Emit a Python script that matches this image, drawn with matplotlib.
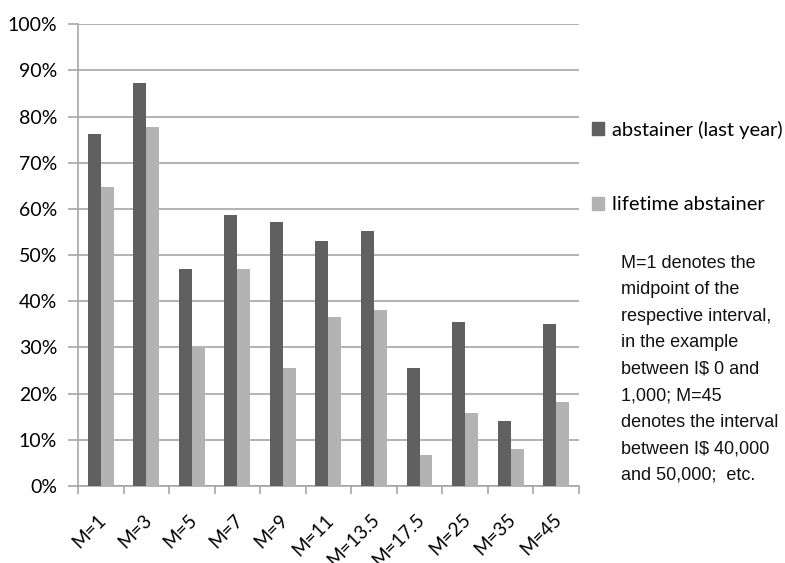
import numpy as np
import matplotlib.pyplot as plt
from matplotlib.patches import Patch

# income midpoint categories (I$ thousand)
categories = ["M=1", "M=3", "M=5", "M=7", "M=9", "M=11", "M=13.5",
              "M=17.5", "M=25", "M=35", "M=45"]
abstainer_last_year = [76.2, 87.3, 47.1, 58.7, 57.2, 53.1, 55.3, 25.5, 35.6, 14.0, 35.0]
lifetime_abstainer = [64.7, 77.7, 30.2, 46.9, 25.6, 36.7, 38.2, 6.8, 15.8, 8.0, 18.2]
y_ticks = np.arange(0, 101, 10)

note = ("M=1 denotes the\nmidpoint of the\nrespective interval,\nin the example\n"
        "between I$ 0 and\n1,000; M=45\ndenotes the interval\nbetween I$ 40,000\n"
        "and 50,000;  etc.")

DARK = "#606060"
LIGHT = "#b3b3b3"
GRID = "#a6a6a6"
TICK_FONT = ["Lato", "DejaVu Sans"]

fig = plt.figure(figsize=(7.85, 5.63), dpi=100)
ax = fig.add_axes([0.0994, 0.1368, 0.638, 0.82])

x = np.arange(len(categories))
w = 0.285
ax.bar(x - w / 2, abstainer_last_year, w, color=DARK, zorder=3)
ax.bar(x + w / 2, lifetime_abstainer, w, color=LIGHT, zorder=3)

ax.set_xlim(-0.5, len(categories) - 0.5)
ax.set_ylim(0, 100)
ax.set_yticks(y_ticks)
ax.set_yticklabels([f"{v}%" for v in y_ticks], fontfamily=TICK_FONT, fontsize=14)
ax.yaxis.grid(True, color=GRID, linewidth=1.2, zorder=0)

# category labels centred, tick marks on the boundaries
ax.set_xticks(x - 0.08)
ax.set_xticklabels(categories, rotation=45, ha="right", rotation_mode="anchor",
                   fontfamily=TICK_FONT, fontsize=13.5)
ax.tick_params(axis="x", length=0, pad=18)
ax.set_xticks(np.arange(-0.5, len(categories)), minor=True)
ax.tick_params(axis="x", which="minor", length=6, color=GRID, width=1.2)
ax.tick_params(axis="y", length=7, color=GRID, width=1.2, pad=8)

for s in ["top", "right"]:
    ax.spines[s].set_visible(False)
for s in ["left", "bottom"]:
    ax.spines[s].set_color(GRID)
    ax.spines[s].set_linewidth(1.2)

handles = [Patch(color=DARK), Patch(color=LIGHT)]
fig.legend(handles, ["abstainer (last year)", "lifetime abstainer"],
           loc="upper left", bbox_to_anchor=(592 / 785, 1 - 121 / 563),
           frameon=False, borderpad=0, borderaxespad=0,
           handlelength=0.62, handleheight=0.62, handletextpad=0.35,
           labelspacing=2.85, prop={"family": TICK_FONT, "size": 14.5})

fig.text(621 / 785, 1 - 255 / 563, note, ha="left", va="top",
         fontfamily=["Liberation Sans", "DejaVu Sans"],
         fontsize=13, linespacing=1.73, color="#111111")

fig.savefig("out.png", dpi=100)
